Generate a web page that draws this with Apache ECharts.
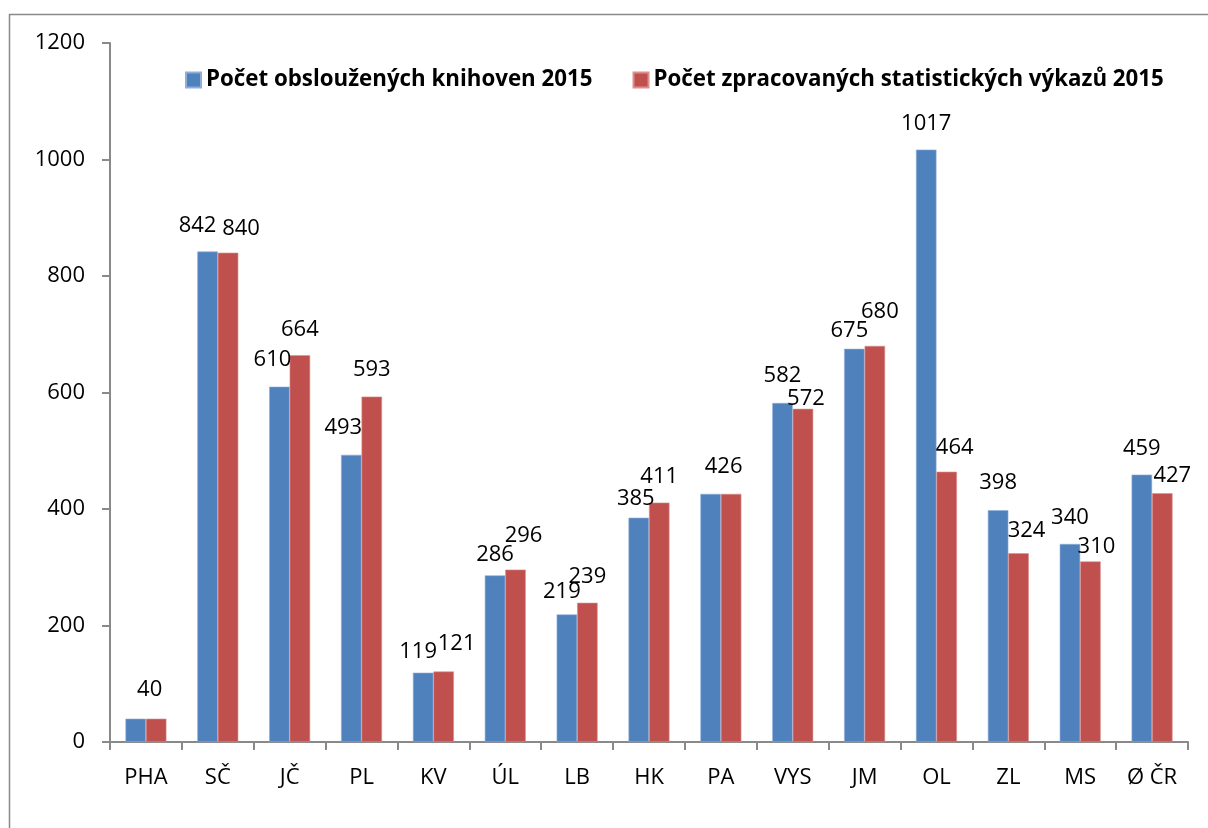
<!DOCTYPE html>
<html>
<head>
<meta charset="utf-8">
<title>Knihovny 2015</title>
<script src="https://cdn.jsdelivr.net/npm/echarts@6/dist/echarts.min.js"></script>
<style>
    html, body { margin: 0; padding: 0; background: #fff; }
    #chart { width: 1208px; height: 828px; }
</style>
</head>
<body>
<div id="chart"></div>
<script>
var regions = ['PHA', 'SČ', 'JČ', 'PL', 'KV', 'ÚL', 'LB', 'HK', 'PA', 'VYS', 'JM', 'OL', 'ZL', 'MS', 'Ø ČR'];
var seriesNames = ['Počet obsloužených knihoven 2015', 'Počet zpracovaných statistických výkazů 2015'];
var libraries = [40, 842, 610, 493, 119, 286, 219, 385, 426, 582, 675, 1017, 398, 340, 459];
var reports = [40, 840, 664, 593, 121, 296, 239, 411, 426, 572, 680, 464, 324, 310, 427];
var yTicks = [0, 200, 400, 600, 800, 1000, 1200];

// label nudges [dx, dy] as in the original, null = label not shown
var librariesLabelShift = [[14, -17], [-10, -14], [-7, -15], [-8, -15], [-5, -9], [0, -9], [-5, -11], [-3, -7],
    [13, -15], [0, -15], [-5, -6], [0, -14], [0, -15], [0, -14], [0, -14]];
var reportsLabelShift = [null, [13, -12], [0, -13], [0, -15], [13, -16], [8, -22], [0, -14], [0, -14],
    null, [3, 2], [5, -22], [8, -12], [8, -11], [6, -3], [10, -6]];

var FONT = 'Open Sans';
var GREY = '#898989';

function withLabels(values, shifts) {
    var out = [];
    for (var i = 0; i < values.length; i++) {
        var s = shifts[i];
        out.push({
            value: values[i],
            label: s ? {show: true, offset: s} : {show: false}
        });
    }
    return out;
}

var chart = echarts.init(document.getElementById('chart'));
chart.setOption({
    animation: false,
    backgroundColor: '#fff',
    graphic: [{
        type: 'rect',
        shape: {x: 9.5, y: 14.5, width: 1300, height: 900},
        style: {fill: 'none', stroke: GREY, lineWidth: 1.5},
        silent: true
    }],
    legend: {
        left: 185,
        top: 68,
        padding: 0,
        icon: 'rect',
        itemWidth: 15,
        itemHeight: 15,
        itemGap: 40,
        textStyle: {fontFamily: FONT, fontWeight: 'bold', fontSize: 22.3, color: '#000', lineHeight: 24},
        data: seriesNames
    },
    grid: {left: 110, right: 20, top: 43, bottom: 86, containLabel: false},
    xAxis: {
        type: 'category',
        data: regions,
        axisLine: {lineStyle: {color: GREY, width: 2}},
        axisTick: {show: true, length: 8, lineStyle: {color: GREY, width: 2}},
        axisLabel: {fontFamily: FONT, fontSize: 22, color: '#000', margin: 24, interval: 0, lineHeight: 24}
    },
    yAxis: {
        type: 'value',
        min: yTicks[0],
        max: yTicks[yTicks.length - 1],
        interval: yTicks[1] - yTicks[0],
        splitLine: {show: false},
        axisLine: {show: true, lineStyle: {color: GREY, width: 2}},
        axisTick: {show: true, length: 8, lineStyle: {color: GREY, width: 2}},
        axisLabel: {
            fontFamily: FONT, fontSize: 22, color: '#000', margin: 25,
            formatter: function (v) { return String(v); }
        }
    },
    series: [
        {
            name: seriesNames[0],
            type: 'bar',
            barGap: '0%',
            barCategoryGap: '43%',
            itemStyle: {color: '#4F81BD', borderColor: '#8FAEDA', borderWidth: 0.6},
            label: {position: 'top', distance: 0, fontFamily: FONT, fontSize: 22, color: '#000', lineHeight: 24},
            data: withLabels(libraries, librariesLabelShift)
        },
        {
            name: seriesNames[1],
            type: 'bar',
            barGap: '0%',
            barCategoryGap: '43%',
            itemStyle: {color: '#C0504D', borderColor: '#DC8F8D', borderWidth: 0.6},
            label: {position: 'top', distance: 0, fontFamily: FONT, fontSize: 22, color: '#000', lineHeight: 24},
            data: withLabels(reports, reportsLabelShift)
        }
    ]
});
</script>
</body>
</html>
